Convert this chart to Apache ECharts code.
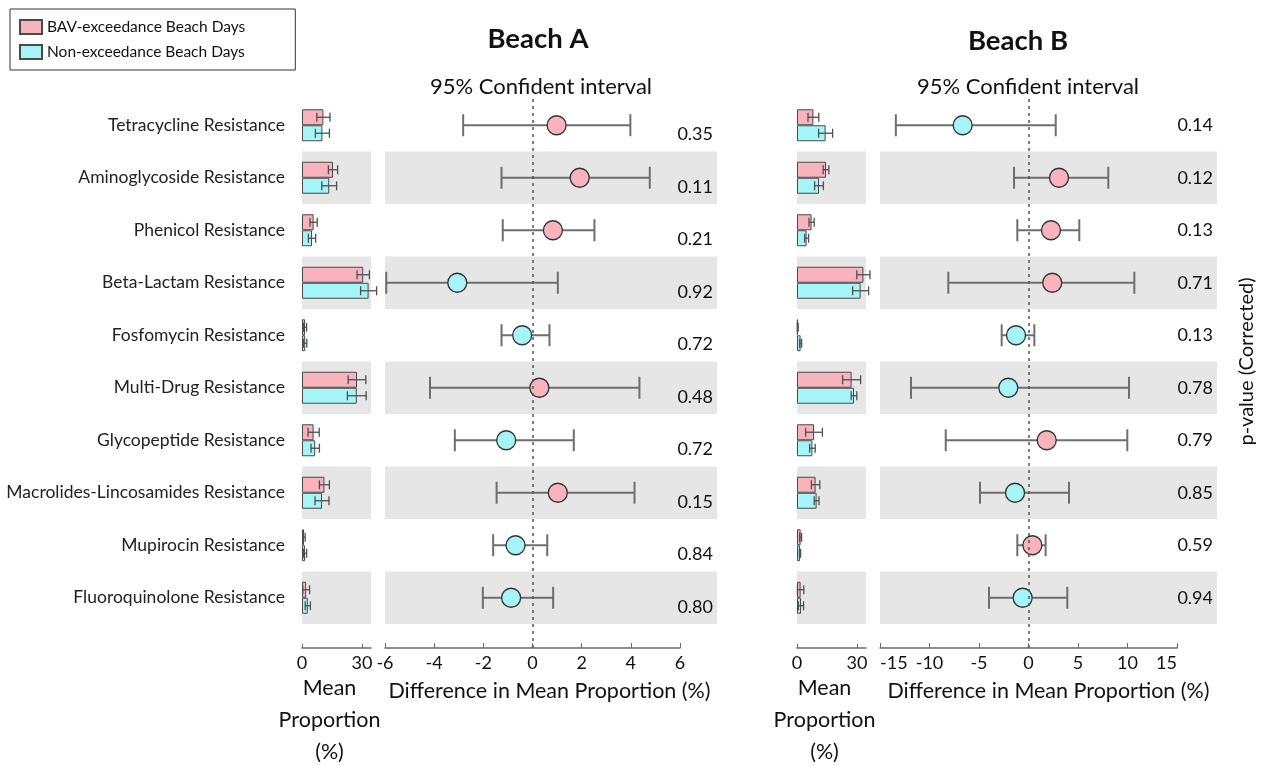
<!DOCTYPE html>
<html>
<head>
<meta charset="utf-8">
<script src="https://cdn.jsdelivr.net/npm/echarts@6/dist/echarts.min.js"></script>
<style>html,body{margin:0;padding:0;background:#fff;}#c{width:1261px;height:766px;}</style>
</head>
<body>
<div id="c"></div>
<script>
const categories = ['Tetracycline Resistance','Aminoglycoside Resistance','Phenicol Resistance','Beta-Lactam Resistance','Fosfomycin Resistance','Multi-Drug Resistance','Glycopeptide Resistance','Macrolides-Lincosamides Resistance','Mupirocin Resistance','Fluoroquinolone Resistance'];
const seriesNames = ['BAV-exceedance Beach Days','Non-exceedance Beach Days'];

// Beach A
const meanA_bav = [10.7, 15.5, 5.8, 30.6, 1.5, 27.5, 5.8, 11.2, 1.0, 2.1];
const errA_bav  = [3.3, 2.3, 1.8, 3.1, 0.8, 4.4, 2.8, 2.5, 0.6, 1.7];
const meanA_non = [10.2, 13.6, 5.0, 33.3, 1.6, 27.4, 6.6, 10.0, 1.5, 2.9];
const errA_non  = [3.5, 3.7, 1.8, 4.0, 0.8, 4.7, 2.1, 3.5, 0.8, 1.3];
const diffA = [0.98, 1.92, 0.83, -3.06, -0.42, 0.28, -1.07, 1.03, -0.69, -0.87];
const loA   = [-2.82, -1.26, -1.21, -5.95, -1.26, -4.17, -3.16, -1.46, -1.60, -2.02];
const hiA   = [3.98, 4.77, 2.52, 1.03, 0.69, 4.35, 1.68, 4.15, 0.60, 0.84];
const pA    = ['0.35','0.11','0.21','0.92','0.72','0.48','0.72','0.15','0.84','0.80'];

// Beach B
const meanB_bav = [8.2, 14.5, 7.3, 33.2, 0.4, 27.3, 8.5, 9.3, 1.8, 1.8];
const errB_bav  = [2.7, 1.4, 1.3, 3.3, 0.2, 4.5, 4.2, 2.1, 0.5, 1.6];
const meanB_non = [14.3, 11.0, 4.8, 31.8, 1.8, 28.5, 7.7, 9.8, 1.5, 2.0];
const errB_non  = [3.5, 2.2, 1.0, 4.0, 0.5, 1.4, 1.4, 1.2, 0.3, 1.3];
const diffB = [-6.65, 3.08, 2.27, 2.40, -1.26, -2.04, 1.84, -1.36, 0.39, -0.59];
const loB   = [-13.4, -1.46, -1.13, -8.10, -2.71, -11.87, -8.36, -4.90, -1.13, -3.99];
const hiB   = [2.75, 8.06, 5.13, 10.69, 0.59, 10.15, 9.98, 4.09, 1.73, 3.92];
const pB    = ['0.14','0.12','0.13','0.71','0.13','0.78','0.79','0.85','0.59','0.94'];

const diffTicksA = {min: -6, max: 6, interval: 2};
const diffTicksB = {min: -15, max: 15, interval: 5};

const PINK = '#f8b3bd', CYAN = '#a4f4f8', BAND = '#e6e6e6', EDGE = '#4a4a4a', AXIS = '#6a6a6a';
const FONT = 'Lato';

const chart = echarts.init(document.getElementById('c'));

const grid = [], xAxis = [], yAxis = [], series = [];
const TOP = 99, ROWS_H = 525, EXTRA = 24;
const yMaxForest = 9.5 + EXTRA / (ROWS_H / categories.length);

function errRender(offset) {
  return function (params, api) {
    const i = api.value(0), v = api.value(1), e = api.value(2);
    const a = api.coord([v - e, i]), b = api.coord([v + e, i]);
    const y = a[1] + offset, h = 4.5;
    const st = {stroke: '#505050', lineWidth: 1.3};
    return {type: 'group', children: [
      {type: 'line', shape: {x1: a[0], y1: y, x2: b[0], y2: y}, style: st},
      {type: 'line', shape: {x1: a[0], y1: y - h, x2: a[0], y2: y + h}, style: st},
      {type: 'line', shape: {x1: b[0], y1: y - h, x2: b[0], y2: y + h}, style: st}
    ]};
  };
}
function ciRender(params, api) {
  const i = api.value(0), lo = api.value(1), hi = api.value(2);
  const a = api.coord([lo, i]), b = api.coord([hi, i]);
  const h = 11;
  const st = {stroke: '#6e6e6e', lineWidth: 2};
  return {type: 'group', children: [
    {type: 'line', shape: {x1: a[0], y1: a[1], x2: b[0], y2: b[1]}, style: st},
    {type: 'line', shape: {x1: a[0], y1: a[1] - h, x2: a[0], y2: a[1] + h}, style: st},
    {type: 'line', shape: {x1: b[0], y1: b[1] - h, x2: b[0], y2: b[1] + h}, style: st}
  ]};
}

function addBeach(cfg) {
  const g0 = grid.length;
  grid.push({left: cfg.barLeft, width: 69, top: TOP, height: ROWS_H, outerBoundsMode: 'none', containLabel: false});
  grid.push({left: cfg.forestLeft, width: cfg.bandWidth, top: TOP, height: ROWS_H, outerBoundsMode: 'none', containLabel: false});
  grid.push({left: cfg.forestLeft, width: cfg.forestWidth, top: TOP, height: ROWS_H + EXTRA, outerBoundsMode: 'none', containLabel: false});

  const tickLabel = {fontFamily: FONT, fontSize: 18, color: '#111', margin: 6};
  xAxis.push({gridIndex: g0, type: 'value', min: 0, max: 34.5, interval: 30, offset: EXTRA,
    axisLine: {show: true, onZero: false, lineStyle: {color: AXIS, width: 1.5}},
    axisTick: {show: true, inside: true, length: 4, lineStyle: {color: AXIS}},
    axisLabel: Object.assign({showMaxLabel: false}, tickLabel),
    splitLine: {show: false},
    name: 'Mean\nProportion\n(%)', nameLocation: 'middle', nameGap: 24, nameMoveOverlap: false,
    nameTextStyle: {fontFamily: FONT, fontSize: 21.5, color: '#111', lineHeight: 32, padding: [0, 14, 0, 0]}
  });
  xAxis.push({gridIndex: g0 + 1, type: 'value', show: false, min: 0, max: 1});
  xAxis.push({gridIndex: g0 + 2, type: 'value', min: cfg.ticks.min, max: cfg.ticks.max, interval: cfg.ticks.interval,
    axisLine: {show: true, onZero: false, lineStyle: {color: AXIS, width: 1.5}},
    axisTick: {show: true, inside: true, length: 5, lineStyle: {color: AXIS}},
    axisLabel: Object.assign({}, tickLabel, cfg.edgeAlign ? {alignMinLabel: 'left', alignMaxLabel: 'right'} : {}),
    splitLine: {show: false},
    name: 'Difference in Mean Proportion (%)', nameLocation: 'middle', nameGap: 32,
    nameTextStyle: {fontFamily: FONT, fontSize: 21.5, color: '#111', padding: [0, 0, 0, cfg.namePad]}
  });

  yAxis.push({gridIndex: g0, type: 'category', inverse: true, data: categories,
    axisLine: {show: false}, axisTick: {show: false},
    axisLabel: {show: cfg.showCats, fontFamily: FONT, fontSize: 17.5, color: '#222', margin: 17},
    splitLine: {show: false},
    splitArea: {show: true, areaStyle: {color: ['rgba(0,0,0,0)', BAND]}}
  });
  yAxis.push({gridIndex: g0 + 1, type: 'category', inverse: true, data: categories, position: 'right',
    axisLine: {show: false}, axisTick: {show: false},
    axisLabel: {show: true, inside: true, margin: 4, fontFamily: FONT, fontSize: 18, color: '#111',
      verticalAlign: cfg.pAlign, lineHeight: 18, formatter: (v, i) => cfg.p[i]},
    splitLine: {show: false},
    splitArea: {show: true, areaStyle: {color: ['rgba(0,0,0,0)', BAND]}},
    name: cfg.pName, nameLocation: 'middle', nameRotate: 90, nameGap: 20,
    nameTextStyle: {fontFamily: FONT, fontSize: 20, color: '#111'}
  });
  yAxis.push({gridIndex: g0 + 2, type: 'value', inverse: true, min: -0.5, max: yMaxForest, show: false});

  const xi = g0, yi = g0;
  series.push({type: 'bar', name: seriesNames[0], xAxisIndex: xi, yAxisIndex: yi, data: cfg.bav,
    barWidth: 16, barGap: '0%', itemStyle: {color: PINK, borderColor: EDGE, borderWidth: 1}, z: 2});
  series.push({type: 'bar', name: seriesNames[1], xAxisIndex: xi, yAxisIndex: yi, data: cfg.non,
    barWidth: 16, barGap: '0%', itemStyle: {color: CYAN, borderColor: EDGE, borderWidth: 1}, z: 2});
  series.push({type: 'custom', xAxisIndex: xi, yAxisIndex: yi, renderItem: errRender(-8), z: 3,
    encode: {x: [1, 2], y: 0}, data: cfg.bav.map((v, i) => [i, v, cfg.bavErr[i]])});
  series.push({type: 'custom', xAxisIndex: xi, yAxisIndex: yi, renderItem: errRender(8), z: 3,
    encode: {x: [1, 2], y: 0}, data: cfg.non.map((v, i) => [i, v, cfg.nonErr[i]])});

  series.push({type: 'custom', xAxisIndex: g0 + 2, yAxisIndex: g0 + 2, renderItem: ciRender, z: 3,
    encode: {x: [1, 2], y: 0}, data: cfg.lo.map((v, i) => [i, v, cfg.hi[i]])});
  series.push({type: 'scatter', xAxisIndex: g0 + 2, yAxisIndex: g0 + 2, symbolSize: 19, z: 4,
    data: cfg.diff.map((v, i) => [v, i]),
    itemStyle: {color: p => (p.value[0] > 0 ? PINK : CYAN), borderColor: '#333', borderWidth: 1.3, opacity: 1},
    markLine: {silent: true, symbol: 'none', label: {show: false},
      lineStyle: {type: [3, 4], color: '#555', width: 1.5}, data: [{xAxis: 0}]}
  });
}

addBeach({barLeft: 302, forestLeft: 385, bandWidth: 332, forestWidth: 295, ticks: diffTicksA,
  bav: meanA_bav, bavErr: errA_bav, non: meanA_non, nonErr: errA_non,
  diff: diffA, lo: loA, hi: hiA, p: pA, pAlign: 'top', pName: '', showCats: true, namePad: 34, edgeAlign: false});
addBeach({barLeft: 797, forestLeft: 880, bandWidth: 337, forestWidth: 297, ticks: diffTicksB,
  bav: meanB_bav, bavErr: errB_bav, non: meanB_non, nonErr: errB_non,
  diff: diffB, lo: loB, hi: hiB, p: pB, pAlign: 'middle', pName: 'p-value (Corrected)', showCats: false, namePad: 40, edgeAlign: true});

chart.setOption({
  animation: false,
  textStyle: {fontFamily: FONT},
  title: [
    {text: 'Beach A', left: 533, top: 20, textAlign: 'center', textStyle: {fontFamily: FONT, fontSize: 27.5, fontWeight: 'bold', color: '#111'}},
    {text: '95% Confident interval', left: 536, top: 71, textAlign: 'center', textStyle: {fontFamily: FONT, fontSize: 22, fontWeight: 'normal', color: '#111'}},
    {text: 'Beach B', left: 1013, top: 22, textAlign: 'center', textStyle: {fontFamily: FONT, fontSize: 27.5, fontWeight: 'bold', color: '#111'}},
    {text: '95% Confident interval', left: 1023, top: 71, textAlign: 'center', textStyle: {fontFamily: FONT, fontSize: 22, fontWeight: 'normal', color: '#111'}}
  ],
  legend: {left: 10, top: 9, orient: 'vertical', data: seriesNames, icon: 'rect',
    itemWidth: 22, itemHeight: 14, itemGap: 9, padding: [10, 50, 10, 9],
    borderColor: '#333', borderWidth: 1, borderRadius: 0,
    textStyle: {fontFamily: FONT, fontSize: 15.5, color: '#111'}},
  grid, xAxis, yAxis, series
});
</script>
</body>
</html>
